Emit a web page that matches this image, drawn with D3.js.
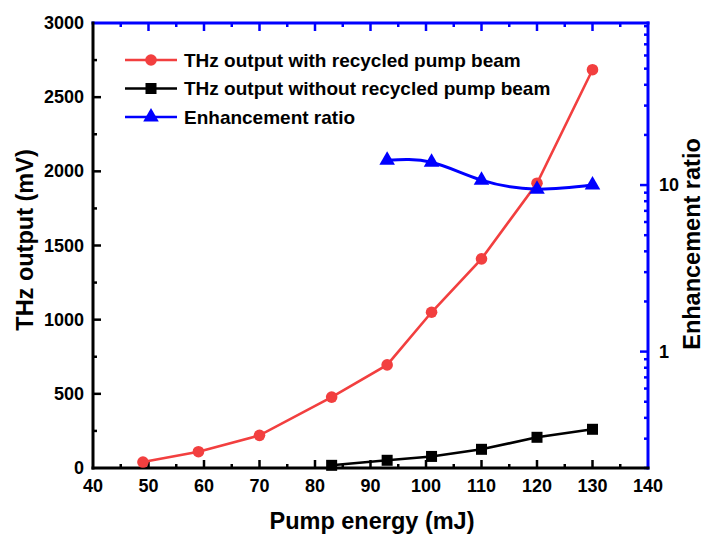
<!DOCTYPE html>
<html>
<head>
<meta charset="utf-8">
<script src="https://cdn.jsdelivr.net/npm/d3@7"></script>
<style>
  html, body { margin: 0; padding: 0; background: #fff; }
  svg text { font-family: "Liberation Sans", Arial, sans-serif; font-weight: bold; }
</style>
</head>
<body>
<svg id="chart" width="706" height="534"></svg>
<script>
// Pump energy (mJ) for each measurement
const energyWith = [49, 59, 70, 83, 93, 101, 110, 120, 130];
const thzWith = [40, 110, 220, 478, 695, 1050, 1410, 1920, 2685];

const energyWithout = [83, 93, 101, 110, 120, 130];
const thzWithout = [18, 52, 78, 126, 207, 261];

const energyRatio = [93, 101, 110, 120, 130];
const ratio = [14.1, 13.7, 10.7, 9.45, 10.0];

const xTicks = [40, 50, 60, 70, 80, 90, 100, 110, 120, 130, 140];
const yTicks = [0, 500, 1000, 1500, 2000, 2500, 3000];
const rTicks = [1, 10];

const seriesNames = [
  "THz output with recycled pump beam",
  "THz output without recycled pump beam",
  "Enhancement ratio"
];

const RED = "#f23f3f", BLACK = "#000", BLUE = "#0000ff";

const svg = d3.select("#chart");
const m = { left: 93, right: 648, top: 23, bottom: 468 };

const x = d3.scaleLinear().domain([40, 140]).range([m.left, m.right]);
const y = d3.scaleLinear().domain([0, 3000]).range([m.bottom, m.top]);
const yr = d3.scaleLog().domain([0.2, 94]).range([m.bottom, m.top]);

const MAJ = 8, MIN = 4;

// tick marks (all pointing into the plot)
function ticks(g, color, vals, len, fn) {
  g.selectAll(null).data(vals).enter().append("line")
    .attr("stroke", color).attr("stroke-width", 2.5)
    .each(function(d) { const a = fn(d, len); d3.select(this).attr("x1", a[0]).attr("y1", a[1]).attr("x2", a[2]).attr("y2", a[3]); });
}
const axG = svg.append("g");
const xMinor = d3.range(45, 140, 10);
const yMinor = d3.range(250, 3000, 500);
// bottom
ticks(axG, BLACK, xTicks.slice(1, -1), MAJ, (d, l) => [x(d), m.bottom, x(d), m.bottom - l]);
ticks(axG, BLACK, xMinor, MIN, (d, l) => [x(d), m.bottom, x(d), m.bottom - l]);
// top
ticks(axG, BLUE, xTicks.slice(1, -1), MAJ, (d, l) => [x(d), m.top, x(d), m.top + l]);
ticks(axG, BLUE, xMinor, MIN, (d, l) => [x(d), m.top, x(d), m.top + l]);
// left
ticks(axG, BLACK, yTicks.slice(1, -1), MAJ, (d, l) => [m.left, y(d), m.left + l, y(d)]);
ticks(axG, BLACK, yMinor, MIN, (d, l) => [m.left, y(d), m.left + l, y(d)]);
// right (log)
const rMinor = [];
[0.1, 1, 10].forEach(b => d3.range(2, 10).forEach(k => { const v = b * k; if (v >= 0.2 && v <= 94) rMinor.push(v); }));
ticks(axG, BLUE, rTicks, MAJ, (d, l) => [m.right, yr(d), m.right - l, yr(d)]);
ticks(axG, BLUE, rMinor, MIN, (d, l) => [m.right, yr(d), m.right - l, yr(d)]);

// axis lines
axG.append("line").attr("x1", m.left).attr("x2", m.right).attr("y1", m.top).attr("y2", m.top).attr("stroke", BLUE).attr("stroke-width", 3).attr("stroke-linecap", "square");
axG.append("line").attr("x1", m.right).attr("x2", m.right).attr("y1", m.top).attr("y2", m.bottom).attr("stroke", BLUE).attr("stroke-width", 3).attr("stroke-linecap", "square");
axG.append("line").attr("x1", m.left).attr("x2", m.left).attr("y1", m.top).attr("y2", m.bottom).attr("stroke", BLACK).attr("stroke-width", 3).attr("stroke-linecap", "square");
axG.append("line").attr("x1", m.left).attr("x2", m.right).attr("y1", m.bottom).attr("y2", m.bottom).attr("stroke", BLACK).attr("stroke-width", 3).attr("stroke-linecap", "square");

// tick labels
const FS = 18;
axG.selectAll(null).data(xTicks).enter().append("text")
  .attr("x", d => x(d)).attr("y", m.bottom + 24).attr("text-anchor", "middle")
  .attr("font-size", FS).text(d => d);
axG.selectAll(null).data(yTicks).enter().append("text")
  .attr("x", m.left - 9).attr("y", d => y(d) + 6).attr("text-anchor", "end")
  .attr("font-size", FS).text(d => d);
axG.selectAll(null).data(rTicks).enter().append("text")
  .attr("x", m.right + 11).attr("y", d => yr(d) + 6).attr("text-anchor", "start")
  .attr("font-size", FS).text(d => d);

// axis titles
const TFS = 23.5;
svg.append("text").attr("x", 372).attr("y", 529).attr("text-anchor", "middle")
  .attr("font-size", TFS).text("Pump energy (mJ)");
svg.append("text").attr("transform", "translate(33,240) rotate(-90)")
  .attr("text-anchor", "middle").attr("font-size", TFS).text("THz output (mV)");
svg.append("text").attr("transform", "translate(700,244) rotate(-90)")
  .attr("text-anchor", "middle").attr("font-size", TFS).text("Enhancement ratio");

// series
const plot = svg.append("g");
const lineL = d3.line().x(d => x(d[0])).y(d => y(d[1]));
const withPts = d3.zip(energyWith, thzWith);
const withoutPts = d3.zip(energyWithout, thzWithout);
const ratioPts = d3.zip(energyRatio, ratio);

plot.append("path").datum(withoutPts).attr("d", lineL).attr("fill", "none").attr("stroke", BLACK).attr("stroke-width", 2.6);
plot.selectAll(null).data(withoutPts).enter().append("rect")
  .attr("x", d => x(d[0]) - 5.5).attr("y", d => y(d[1]) - 5.5).attr("width", 11).attr("height", 11).attr("fill", BLACK);

plot.append("path").datum(withPts).attr("d", lineL).attr("fill", "none").attr("stroke", RED).attr("stroke-width", 2.6);
plot.selectAll(null).data(withPts).enter().append("circle")
  .attr("cx", d => x(d[0])).attr("cy", d => y(d[1])).attr("r", 5.8).attr("fill", RED);

const lineR = d3.line().x(d => x(d[0])).y(d => yr(d[1])).curve(d3.curveNatural);
plot.append("path").datum(ratioPts).attr("d", lineR).attr("fill", "none").attr("stroke", BLUE).attr("stroke-width", 3);
const tri = d3.symbol().type(d3.symbolTriangle).size(105);
plot.selectAll(null).data(ratioPts).enter().append("path")
  .attr("transform", d => `translate(${x(d[0])},${yr(d[1])})`).attr("d", tri).attr("fill", BLUE);

// legend
const lg = svg.append("g");
const legendRows = [
  { name: seriesNames[0], color: RED, shape: "circle" },
  { name: seriesNames[1], color: BLACK, shape: "square" },
  { name: seriesNames[2], color: BLUE, shape: "triangle" }
];
legendRows.forEach((r, i) => {
  const cy = 60 + i * 28.5;
  lg.append("line").attr("x1", 125).attr("x2", 177).attr("y1", cy).attr("y2", cy).attr("stroke", r.color).attr("stroke-width", 2.6);
  if (r.shape === "circle") lg.append("circle").attr("cx", 151).attr("cy", cy).attr("r", 5.8).attr("fill", r.color);
  else if (r.shape === "square") lg.append("rect").attr("x", 145.5).attr("y", cy - 5.5).attr("width", 11).attr("height", 11).attr("fill", r.color);
  else lg.append("path").attr("transform", `translate(151,${cy})`).attr("d", tri).attr("fill", r.color);
  lg.append("text").attr("x", 184).attr("y", cy + 6.5).attr("font-size", 19).text(r.name);
});
</script>
</body>
</html>
